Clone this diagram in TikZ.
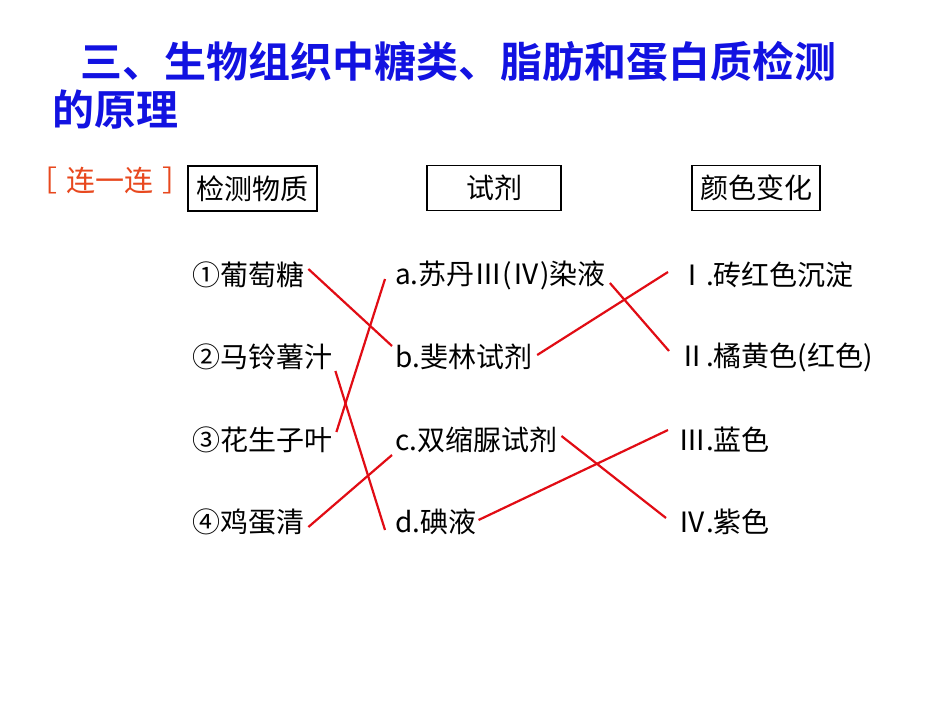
\documentclass[tikz,border=0pt]{standalone}
\usepackage{fontspec}
\setmainfont{Noto Sans CJK SC}
\newfontfamily\titlefont{Noto Sans CJK SC Bold}
\definecolor{titleblue}{RGB}{18,18,225}
\definecolor{tagred}{RGB}{232,72,30}
\definecolor{linered}{RGB}{225,12,20}
\tikzset{
  titletext/.style={anchor=west,inner sep=0pt,text=titleblue,font=\titlefont\fontsize{42}{42}\selectfont},
  tagtext/.style={anchor=west,inner sep=0pt,text=tagred,font=\fontsize{29}{29}\selectfont},
  headbox/.style={draw=black,line width=1.4pt,inner sep=0pt,minimum height=45pt,font=\fontsize{28}{28}\selectfont},
  item/.style={anchor=west,inner sep=0pt,font=\fontsize{28}{28}\selectfont},
  link/.style={draw=linered,line width=2.2pt}
}
\begin{document}
\begin{tikzpicture}[x=1pt,y=-1pt]
\useasboundingbox[fill=white] (0,0) rectangle (950,713);
% title
\node[titletext] (t1) at (80,62) {三、生物组织中糖类、脂肪和蛋白质检测};
\node[titletext] (t2) at (52,110) {的原理};
% tag
\node[tagtext] (tag) at (28,180) {［\hspace{9pt}连一连\hspace{9pt}］};
% header boxes
\node[headbox,minimum width=129pt] (h1) at (252.5,188.5) {检测物质};
\node[headbox,minimum width=134pt] (h2) at (494,188) {试剂};
\node[headbox,minimum width=128pt] (h3) at (756,188) {颜色变化};
% column 1
\node[item] (s1) at (192,275) {①葡萄糖};
\node[item] (s2) at (192,357) {②马铃薯汁};
\node[item] (s3) at (192,440) {③花生子叶};
\node[item] (s4) at (192,522) {④鸡蛋清};
% column 2
\node[item] (r1) at (395,275) {a.苏丹Ⅲ(Ⅳ)染液};
\node[item] (r2) at (395,357) {b.斐林试剂};
\node[item] (r3) at (395,440) {c.双缩脲试剂};
\node[item] (r4) at (395,522) {d.碘液};
% column 3
\node[item] (c1) at (678,275) {Ⅰ.砖红色沉淀};
\node[item] (c2) at (678,357) {Ⅱ.橘黄色(红色)};
\node[item] (c3) at (678,440) {Ⅲ.蓝色};
\node[item] (c4) at (678,522) {Ⅳ.紫色};
% links
\draw[link] ([xshift=4pt,yshift=6pt]s1.east) -- ([xshift=-3pt,yshift=11pt]r2.west);
\draw[link] ([xshift=3pt,yshift=-14pt]s2.east) -- ([xshift=-10pt,yshift=-8pt]r4.west);
\draw[link] ([xshift=4pt,yshift=8pt]s3.east) -- ([xshift=-10pt,yshift=-4pt]r1.west);
\draw[link] ([xshift=4pt,yshift=-5pt]s4.east) -- ([xshift=-3pt,yshift=-15pt]r3.west);
\draw[link] ([xshift=4pt,yshift=-8pt]r1.east) -- ([xshift=-9pt,yshift=6pt]c2.west);
\draw[link] ([xshift=5pt,yshift=2pt]r2.east) -- ([xshift=-10pt,yshift=3pt]c1.west);
\draw[link] ([xshift=4pt,yshift=4pt]r3.east) -- ([xshift=-12pt,yshift=4pt]c4.west);
\draw[link] ([xshift=2pt,yshift=2pt]r4.east) -- ([xshift=-10pt,yshift=10pt]c3.west);
\end{tikzpicture}
\end{document}
